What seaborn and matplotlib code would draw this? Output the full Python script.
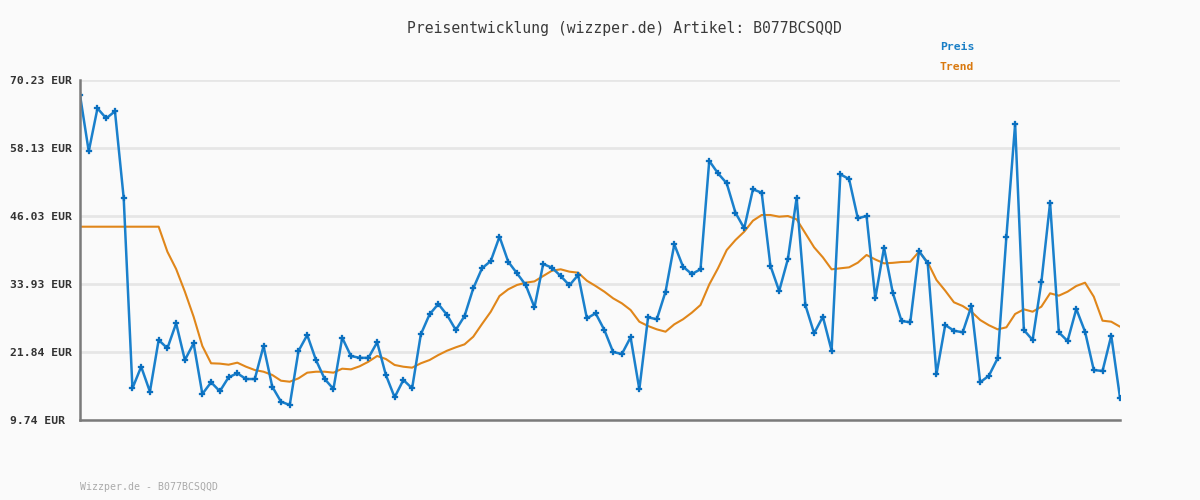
import matplotlib
matplotlib.use("Agg")
import matplotlib.pyplot as plt
import seaborn as sns
import pandas as pd
import numpy as np

title = "Preisentwicklung (wizzper.de) Artikel: B077BCSQQD"
footer = "Wizzper.de - B077BCSQQD"
y_ticks = [9.74, 21.84, 33.93, 46.03, 58.13, 70.23]

preis = [
    67.56, 57.54, 65.19, 63.41, 64.66, 49.23, 15.38, 19.22, 14.78, 23.97,
    22.50, 26.94, 20.41, 23.38, 14.37, 16.45, 14.85, 17.34, 18.05, 17.03,
    17.03, 22.90, 15.67, 13.00, 12.41, 22.02, 24.86, 20.41, 17.03, 15.26,
    24.38, 21.13, 20.80, 20.80, 23.56, 17.75, 13.78, 16.86, 15.38, 24.98,
    28.54, 30.38, 28.42, 25.75, 28.24, 33.17, 36.73, 38.03, 42.35, 37.90,
    35.84, 33.76, 29.79, 37.49, 36.84, 35.36, 33.70, 35.54, 27.83, 28.72,
    25.75, 21.84, 21.48, 24.45, 15.20, 28.01, 27.66, 32.57, 40.99, 37.02,
    35.71, 36.55, 55.85, 53.63, 51.85, 46.62, 43.84, 50.78, 50.18, 37.19,
    32.69, 38.38, 49.29, 30.20, 25.16, 28.12, 22.07, 53.45, 52.61, 45.62,
    46.03, 31.39, 40.39, 32.39, 27.35, 27.12, 39.81, 37.61, 17.87, 26.64,
    25.63, 25.34, 30.02, 16.45, 17.62, 20.72, 42.35, 62.40, 25.75, 23.97,
    34.24, 48.40, 25.34, 23.79, 29.49, 25.45, 18.63, 18.46, 24.74, 13.71,
]

trend = [
    44.13, 44.13, 44.13, 44.13, 44.13, 44.13, 44.13, 44.13, 44.13, 44.13,
    39.68, 36.60, 32.57, 28.12, 22.90, 19.83, 19.77, 19.58, 19.94, 19.22,
    18.63, 18.33, 17.75, 16.73, 16.55, 17.15, 18.16, 18.33, 18.33, 18.16,
    18.87, 18.75, 19.30, 20.11, 21.13, 20.59, 19.53, 19.22, 19.05, 19.83,
    20.41, 21.30, 22.07, 22.67, 23.20, 24.56, 26.82, 29.00, 31.80, 32.99,
    33.76, 34.17, 34.40, 35.36, 36.30, 36.55, 36.13, 35.95, 34.52, 33.58,
    32.57, 31.39, 30.50, 29.31, 27.23, 26.46, 25.87, 25.45, 26.76, 27.66,
    28.83, 30.20, 33.85, 36.73, 39.98, 41.76, 43.24, 45.20, 46.21, 46.21,
    45.91, 46.03, 45.44, 42.95, 40.46, 38.68, 36.55, 36.73, 36.90, 37.73,
    39.10, 38.30, 37.61, 37.70, 37.85, 37.90, 39.68, 37.79, 34.65, 32.75,
    30.68, 30.02, 29.01, 27.53, 26.60, 25.87, 26.23, 28.60, 29.43, 29.01,
    29.90, 32.28, 31.86, 32.57, 33.58, 34.17, 31.68, 27.41, 27.23, 26.34,
]

idx = list(range(len(preis)))
df = pd.DataFrame({"idx": idx, "Preis": preis, "Trend": trend})

BLUE = "#1a80cc"
BLUE_M = "#0a6fbf"
ORANGE = "#e0861a"
BG = "#fafafa"

sns.set_theme(style="white")
plt.rcParams["font.family"] = ["DejaVu Sans Mono", "DejaVu Sans"]

fig = plt.figure(figsize=(12, 5), dpi=100, facecolor=BG)
ax = fig.add_axes([80 / 1200, 80 / 500, 1040 / 1200, 340 / 500])
ax.set_facecolor(BG)

sns.lineplot(data=df, x="idx", y="Trend", ax=ax, color=ORANGE, linewidth=1.5, zorder=3)
sns.lineplot(data=df, x="idx", y="Preis", ax=ax, color=BLUE, linewidth=1.8,
             marker="P", markersize=4.0, markerfacecolor=BLUE_M,
             markeredgecolor=BLUE_M, markeredgewidth=0.2, zorder=4)

ax.set_xlim(0, len(preis) - 1)
ax.set_ylim(y_ticks[0], y_ticks[-1])
ax.set_yticks(y_ticks)
ax.set_yticklabels([f"{v:.2f} EUR" for v in y_ticks])
ax.set_xticks([])
ax.set_xlabel("")
ax.set_ylabel("")
ax.grid(axis="y", color="#e6e6e6", linewidth=2.0, zorder=0)
ax.set_axisbelow(True)
ax.tick_params(axis="y", length=0, pad=50.4, labelsize=8.2, labelcolor="#333333")
for lbl in ax.get_yticklabels():
    lbl.set_horizontalalignment("left")
    lbl.set_fontweight("bold")

for s in ["top", "right"]:
    ax.spines[s].set_visible(False)
for s in ["left", "bottom"]:
    ax.spines[s].set_color("#7a7a7a")
    ax.spines[s].set_linewidth(1.8)
    ax.spines[s].set_zorder(5)

fig.text(624 / 1200, 1 - 28 / 500, title, ha="center", va="center",
         fontsize=10.6, color="#3a3a3a")
fig.text(940 / 1200, 1 - 47 / 500, "Preis", ha="left", va="center",
         fontsize=8.2, fontweight="bold", color="#1a7fc6")
fig.text(940 / 1200, 1 - 67 / 500, "Trend", ha="left", va="center",
         fontsize=8.2, fontweight="bold", color="#d9790f")
fig.text(80 / 1200, 1 - 487 / 500, footer, ha="left", va="center",
         fontsize=7.1, color="#aaaaaa")

fig.savefig("out.png", dpi=100, facecolor=BG)
